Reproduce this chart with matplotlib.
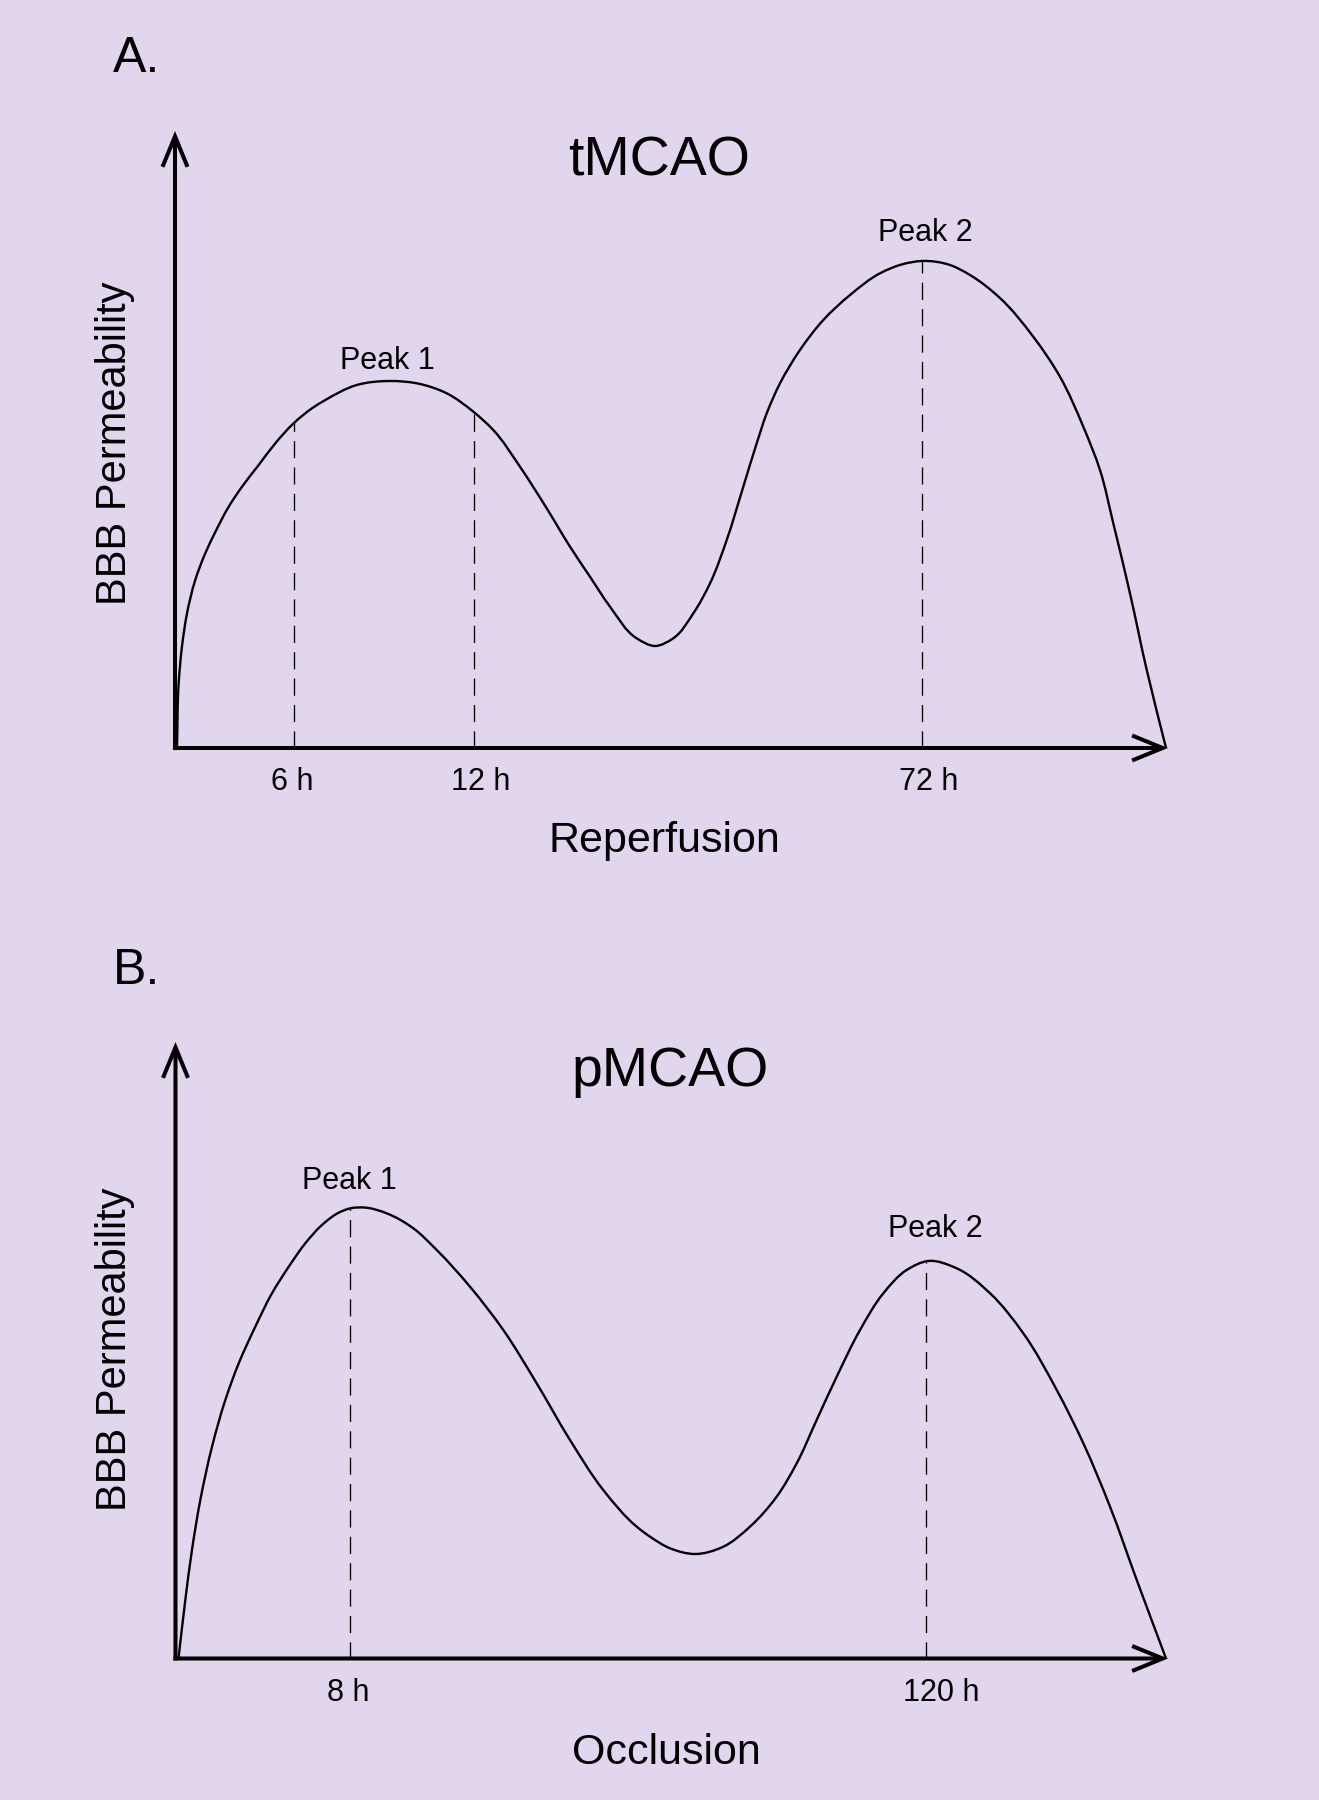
import matplotlib
matplotlib.use("Agg")
import matplotlib.pyplot as plt
from matplotlib.path import Path
from matplotlib.patches import PathPatch
import numpy as np

plt.rcParams['font.family'] = ['Liberation Sans', 'DejaVu Sans']

# ---------------- data (positions along each schematic axis, 0-100) ----------------
# Panel A: tMCAO (reperfusion)
a_x = [0.20, 0.37, 0.70, 1.21, 2.04, 3.05, 4.06, 5.41, 6.75, 8.43, 10.10, 11.95, 13.80,
       15.14, 18.30, 21.65, 24.67, 27.36, 30.04, 32.05, 34.74, 37.43, 39.78, 41.79, 43.81,
       46.49, 48.34, 50.18, 52.20, 53.88, 55.56, 57.23, 58.58, 59.59, 60.93, 62.94, 65.29,
       67.98, 71.00, 73.34, 75.20, 78.05, 80.06, 83.08, 86.43, 89.12, 91.47, 93.15, 94.49,
       96.17, 97.86, 99.80]
a_y = [0.00, 10.49, 16.42, 21.83, 27.23, 31.56, 35.01, 39.11, 42.35, 45.87, 49.38, 52.63, 55.06,
       56.40, 58.83, 59.48, 59.00, 57.49, 54.51, 51.54, 45.59, 38.85, 32.63, 27.76, 22.90,
       17.78, 16.53, 17.78, 21.83, 26.69, 33.71, 42.35, 49.38, 54.25, 59.11, 64.51, 69.37,
       73.42, 76.94, 78.44, 78.93, 78.28, 76.66, 72.93, 66.66, 60.18, 52.07, 45.06, 36.42,
       25.07, 12.64, 0.00]
a_marks = [11.98, 30.11, 75.23]
a_mark_labels = ['6 h', '12 h', '72 h']
a_peak_x = [21.35, 75.53]
a_peak_y = [61.5, 82.2]
a_peak_labels = ['Peak 1', 'Peak 2']

# Panel B: pMCAO (occlusion)
b_x = [0.30, 0.99, 1.66, 2.50, 3.68, 5.02, 6.37, 8.04, 9.72, 11.41, 13.08, 14.76, 16.44,
       17.61, 19.12, 21.28, 23.96, 26.32, 29.67, 33.03, 36.39, 39.75, 43.10, 46.47, 47.81,
       49.82, 52.34, 55.19, 57.88, 60.57, 62.59, 64.60, 66.62, 68.97, 71.32, 73.67, 75.85,
       78.71, 82.07, 85.42, 88.79, 91.47, 94.16, 96.85, 99.80]
b_y = [0.00, 9.49, 17.60, 25.71, 34.36, 41.93, 47.88, 53.82, 59.24, 63.55, 67.35, 70.32, 72.31,
       73.02, 73.14, 72.21, 69.78, 66.26, 60.31, 53.28, 44.64, 35.44, 27.33, 21.38, 19.76,
       17.88, 16.95, 18.13, 21.38, 26.25, 31.66, 38.69, 45.71, 53.28, 59.24, 63.02, 64.48,
       63.29, 59.24, 52.75, 43.55, 34.91, 24.62, 12.73, 0.00]
b_marks = [17.56, 75.60]
b_mark_labels = ['8 h', '120 h']
b_peak_x = [17.48, 76.52]
b_peak_y = [76.15, 68.3]
b_peak_labels = ['Peak 1', 'Peak 2']

# ---------------- figure ----------------
W, H = 1319, 1800
BG = '#E2D6EF'
fig = plt.figure(figsize=(W / 100, H / 100), dpi=100, facecolor=BG)


def fx(px):
    return px / W


def fy(py):
    return 1 - py / H


def smooth_path(xs, ys, sx, sy):
    """Cubic Bezier path through every read point, chord-length (Bessel) tangents
    computed in the panel's on-screen aspect (sx, sy = pixels per data unit)."""
    s = np.array([sx, sy], float)
    q = np.column_stack([xs, ys]).astype(float) * s
    n = len(q)
    seg = np.diff(q, axis=0)
    d = np.hypot(seg[:, 0], seg[:, 1])
    u = seg / d[:, None]
    m = np.zeros_like(q)
    m[0] = u[0]
    m[-1] = u[-1]
    for i in range(1, n - 1):
        m[i] = (u[i - 1] * d[i] + u[i] * d[i - 1]) / (d[i - 1] + d[i])
    verts = [q[0]]
    codes = [Path.MOVETO]
    for i in range(n - 1):
        c1 = q[i] + m[i] * d[i] / 3.0
        c2 = q[i + 1] - m[i + 1] * d[i] / 3.0
        verts += [c1, c2, q[i + 1]]
        codes += [Path.CURVE4] * 3
    return Path(np.array(verts) / s, codes)


def panel(rect_px, xs, ys, marks, mark_labels, px_, py_, plabels, title, title_base,
          letter, letter_base, xlabel, xlabel_base, ylabel_center, tick_offset):
    left, top, right, bottom = rect_px
    ax = fig.add_axes([fx(left), fy(bottom), (right - left) / W, (bottom - top) / H])
    ax.set_xlim(0, 100)
    ax.set_ylim(0, 100)
    ax.axis('off')
    ax.patch.set_alpha(0)
    sx = (right - left) / 100.0
    sy = (bottom - top) / 100.0

    # axes with open arrowheads
    lw_ax = 2.9
    half = lw_ax * 100 / 72 / 2  # half line width in pixels
    ap = dict(arrowstyle='->,head_length=22,head_width=9', lw=lw_ax, color='black',
              shrinkA=0, shrinkB=0, mutation_scale=1, capstyle='butt', joinstyle='miter')
    ax.annotate('', xy=(100, 0), xytext=(-half / sx, 0), arrowprops=ap, annotation_clip=False)
    ax.annotate('', xy=(0, 100), xytext=(0, -half / sy), arrowprops=ap, annotation_clip=False)

    # curve
    ax.add_patch(PathPatch(smooth_path(xs, ys, sx, sy), facecolor='none', edgecolor='black',
                           lw=1.7, joinstyle='round', capstyle='butt', clip_on=False, zorder=3))

    # dashed markers and time labels
    for mk, lab in zip(marks, mark_labels):
        top_y = np.interp(mk, xs, ys)
        ax.plot([mk, mk], [0, top_y], color='black', lw=0.95, linestyle=(0, (13, 7)), zorder=2)
        ax.annotate(lab, xy=(mk, 0), xytext=(-16.5, tick_offset), textcoords='offset points',
                    ha='left', va='baseline', fontsize=22, annotation_clip=False)

    for x, y, lab in zip(px_, py_, plabels):
        ax.text(x, y, lab, ha='center', va='baseline', fontsize=22)

    fig.text(fx(title[0]), fy(title_base), title[1], ha='center', va='baseline', fontsize=40)
    fig.text(fx(113), fy(letter_base), letter, ha='left', va='baseline', fontsize=36)
    fig.text(fx(xlabel[0]), fy(xlabel_base), xlabel[1], ha='center', va='baseline', fontsize=31)
    fig.text(fx(115), fy(ylabel_center), 'BBB Permeability', ha='center', va='center',
             rotation=90, fontsize=30)
    return ax


panel((175, 131, 1168, 748), a_x, a_y, a_marks, a_mark_labels, a_peak_x, a_peak_y,
      a_peak_labels, (659, 'tMCAO'), 175, 'A.', 71.5, (664, 'Reperfusion'), 852, 443, -30.2)

panel((175.5, 1042, 1168, 1658.5), b_x, b_y, b_marks, b_mark_labels, b_peak_x, b_peak_y,
      b_peak_labels, (670, 'pMCAO'), 1086, 'B.', 984, (666, 'Occlusion'), 1764.5, 1349, -30.6)

fig.savefig('out.png', dpi=100, facecolor=BG)
